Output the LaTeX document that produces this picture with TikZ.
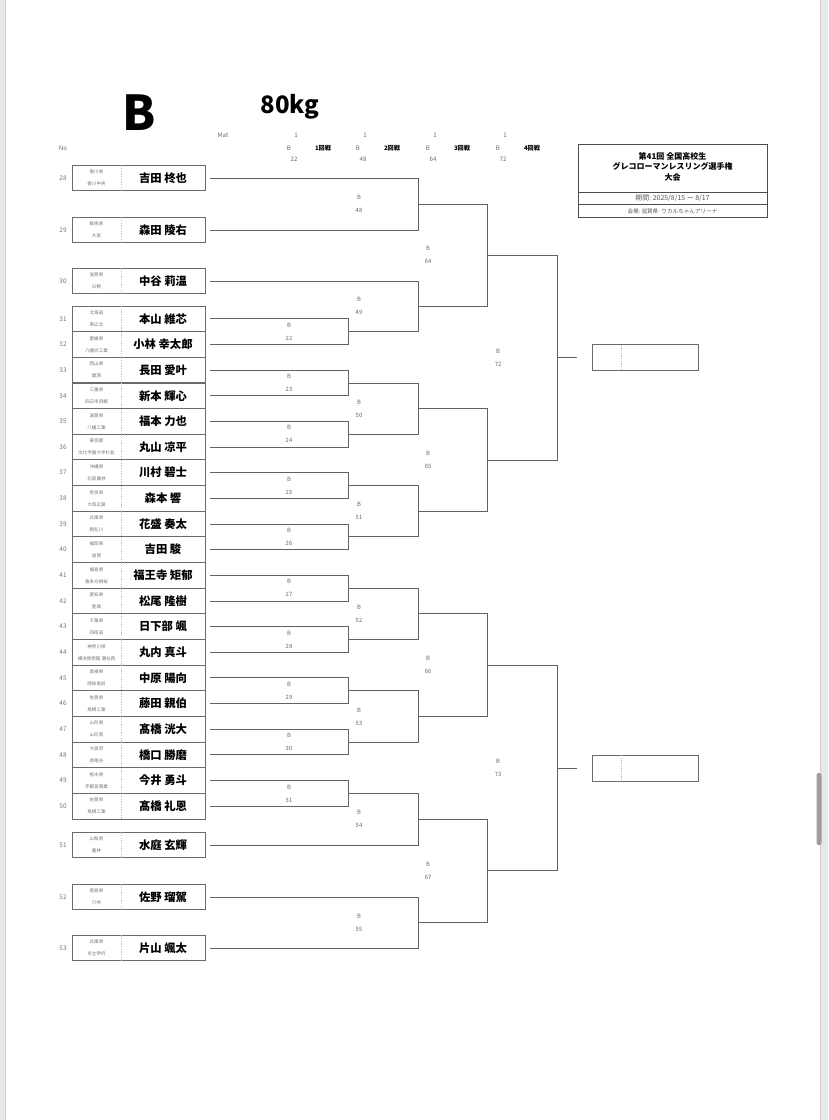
\documentclass[tikz,border=0pt]{standalone}
\usepackage{fontspec}
\setmainfont{Noto Sans CJK JP}
\usetikzlibrary{calc,positioning}

\begin{document}
\begin{tikzpicture}[
  x=0.75pt, y=-0.75pt,
  every node/.style={inner sep=0pt, outer sep=0pt},
  line/.style={draw=black!62, line width=0.7pt},
  entry/.style={draw=black!58, line width=0.7pt, minimum width=99.75pt, minimum height=19.24pt},
  finalbox/.style={draw=black!58, line width=0.7pt, minimum width=79.5pt, minimum height=19.5pt},
  divider/.style={draw=black!25, dashed, line width=0.4pt, dash pattern=on 1pt off 1pt},
  pref/.style={font=\fontsize{3.4pt}{4pt}\selectfont, text=black!55},
  namelab/.style={font=\fontsize{8.5pt}{9pt}\selectfont\bfseries, text=black},
  nolab/.style={font=\fontsize{4.8pt}{5pt}\selectfont, text=black!55},
  lab/.style={font=\fontsize{4.4pt}{5pt}\selectfont, text=black!60},
  head/.style={font=\fontsize{4.6pt}{5pt}\selectfont, text=black!60},
  roundlab/.style={font=\fontsize{4.6pt}{5pt}\selectfont\bfseries, text=black}
]
\useasboundingbox (0,0) rectangle (828,1120);

% page edges
\fill[black!9] (0,0) rectangle (4.5,1120);
\draw[black!18, line width=0.5pt] (5,0) -- (5,1120);
\fill[black!9] (820,0) rectangle (828,1120);
\draw[black!18, line width=0.5pt] (820,0) -- (820,1120);
\fill[black!38, rounded corners=1.5pt] (816.5,773) rectangle (821.5,845);

% heading
\node[font=\fontsize{36pt}{38pt}\selectfont\bfseries] (cls) at (139,113) {B};
\node[font=\fontsize{18pt}{20pt}\selectfont\bfseries] (wt) at (290,107) {80kg};
\node[head] (mat) at (223,135) {Mat};
\node[head] (no) at (63,148) {No};
\foreach \r/\x/\n in {1/296/22, 2/365/48, 3/435/64, 4/505/72}{
  \node[head] (mat\r) at (\x,135) {1};
  \node[head] (bh\r) at ({\x-7},148) {B};
  \node[head] (nh\r) at ({\x-2},159) {\n};
  \node[roundlab] (rh\r) at ({\x+27},148) {{\r}回戦};
}

% title box
\node[draw=black!70, line width=0.7pt, minimum width=141.75pt, minimum height=54.75pt] (title) at (672.5,180.5) {};
\draw[black!70, line width=0.6pt] (578,192) -- (767,192);
\draw[black!70, line width=0.6pt] (578,204.5) -- (767,204.5);
\node[font=\fontsize{6pt}{7.9pt}\selectfont\bfseries, align=center] (ttl) at (672.5,166.5)
  {第41回\ 全国高校生\\グレコローマンレスリング選手権\\大会};
\node[font=\fontsize{5.2pt}{6pt}\selectfont, text=black!65] (period) at (672.5,198.3) {期間:\ 2025/8/15 ー 8/17};
\node[font=\fontsize{4.2pt}{5pt}\selectfont, text=black!65] (venue) at (672.5,211) {会場:\ 滋賀県·ウカルちゃんアリーナ};

% entries
\foreach \no/\y/\pref/\school/\name in {
  28/178/香川県/香川中央/吉田 柊也,
  29/230/群馬県/大泉/森田 陵右,
  30/281/滋賀県/日野/中谷 莉温,
  31/318.8/北海道/帯広北/本山 維芯,
  32/344.5/愛媛県/八幡浜工業/小林 幸太郎,
  33/370.1/岡山県/関西/長田 愛叶,
  34/395.8/三重県/四日市四郷/新本 輝心,
  35/421.4/滋賀県/八幡工業/福本 力也,
  36/447.1/東京都/文化学園大学杉並/丸山 凉平,
  37/472.7/沖縄県/北部農林/川村 碧士,
  38/498.4/奈良県/大和広陵/森本 響,
  39/524/兵庫県/猪名川/花盛 奏太,
  40/549.7/福岡県/遠賀/吉田 駿,
  41/575.3/福島県/喜多方桐桜/福王寺 矩郁,
  42/601/愛知県/星城/松尾 隆樹,
  43/626.6/千葉県/四街道/日下部 颯,
  44/652.3/神奈川県/横浜修悠館 瀬谷西/丸内 真斗,
  45/677.9/島根県/隠岐島前/中原 陽向,
  46/703.6/佐賀県/鳥栖工業/藤田 親伯,
  47/729.2/山形県/山形南/髙橋 洸大,
  48/754.9/大阪府/長尾谷/橋口 勝磨,
  49/780.5/栃木県/宇都宮商業/今井 勇斗,
  50/806.2/佐賀県/鳥栖工業/髙橋 礼恩,
  51/845/山梨県/農林/水庭 玄輝,
  52/897/徳島県/穴吹/佐野 瑠駕,
  53/948/兵庫県/市立伊丹/片山 颯太}{
  \node[entry] (e\no) at (138.5,\y) {};
  \draw[divider] ([xshift=36.75pt]e\no.north west) -- ([xshift=36.75pt]e\no.south west);
  \node[pref] (p\no) at (96.5,{\y-6}) {\pref};
  \node[pref] (h\no) at (96.5,{\y+6}) {\school};
  \node[namelab] (n\no) at (163,\y) {\name};
  \node[nolab] (no\no) at (63,\y) {\no};
  \coordinate (s\no) at (209.5,\y);
}

% match points
\foreach \m/\x/\y in {
  22/348/331.7, 23/348/383, 24/348/434.3, 25/348/485.6, 26/348/536.9,
  27/348/588.2, 28/348/639.5, 29/348/690.8, 30/348/742.1, 31/348/793.4,
  48/418/204, 49/418/306.3, 50/418/408.7, 51/418/511.3,
  52/418/613.9, 53/418/716.5, 54/418/819.2, 55/418/922.5,
  64/487/255.2, 65/487/460, 66/487/665.2, 67/487/870.9,
  72/557/357.6, 73/557/768}{
  \coordinate (m\m) at (\x,\y);
  \node[lab] (b\m) at ({\x-59},{\y-6.5}) {B};
  \node[lab] (l\m) at ({\x-59},{\y+6.5}) {\m};
}

% bracket
\foreach \a/\b/\m in {
  s31/s32/m22, s33/s34/m23, s35/s36/m24, s37/s38/m25, s39/s40/m26,
  s41/s42/m27, s43/s44/m28, s45/s46/m29, s47/s48/m30, s49/s50/m31,
  s28/s29/m48, s30/m22/m49, m23/m24/m50, m25/m26/m51,
  m27/m28/m52, m29/m30/m53, m31/s51/m54, s52/s53/m55,
  m48/m49/m64, m50/m51/m65, m52/m53/m66, m54/m55/m67,
  m64/m65/m72, m66/m67/m73}{
  \draw[line] (\a) -| (\m);
  \draw[line] (\b) -| (\m);
}

% final slots
\foreach \m in {72,73}{
  \node[finalbox, right=26.25pt of m\m] (f\m) {};
  \draw[divider] ([xshift=21.75pt]f\m.north west) -- ([xshift=21.75pt]f\m.south west);
  \draw[line] (m\m) -- ([xshift=-11.25pt]f\m.west);
}
\end{tikzpicture}
\end{document}
